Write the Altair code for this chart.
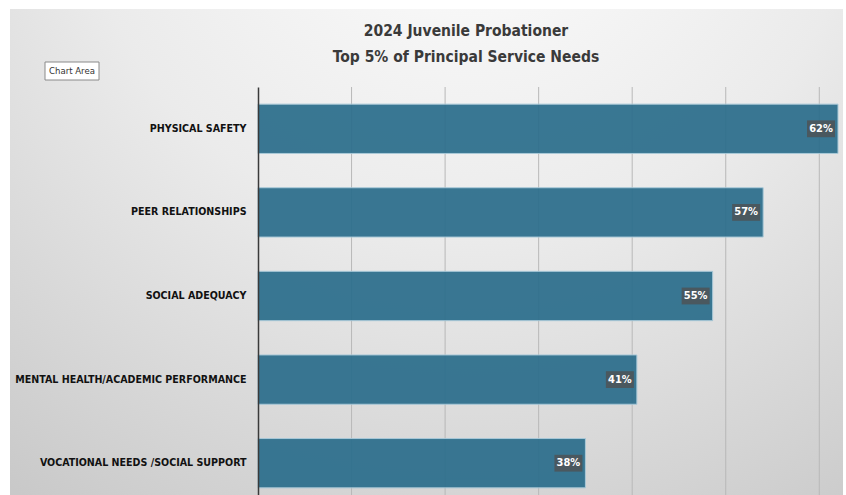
import altair as alt
import pandas as pd

categories = [
    "PHYSICAL SAFETY",
    "PEER RELATIONSHIPS",
    "SOCIAL ADEQUACY",
    "MENTAL HEALTH/ACADEMIC PERFORMANCE",
    "VOCATIONAL NEEDS /SOCIAL SUPPORT",
]
bar_lengths = [62.0, 54.0, 48.6, 40.5, 35.0]
pct_labels = ["62%", "57%", "55%", "41%", "38%"]
grid_ticks = [10, 20, 30, 40, 50, 60]
title_lines = ["2024 Juvenile Probationer", "Top 5% of Principal Service Needs"]

df = pd.DataFrame({"need": categories, "value": bar_lengths, "label": pct_labels})
grid_df = pd.DataFrame({"g": grid_ticks})

FONT = "DejaVu Sans Condensed"

y_enc = alt.Y(
    "need:N",
    sort=categories,
    scale=alt.Scale(paddingInner=0.41, paddingOuter=0.205),
    axis=alt.Axis(
        title=None,
        ticks=False,
        labelPadding=12,
        labelFont=FONT,
        labelFontWeight="bold",
        labelFontSize=10.6,
        labelColor="#111111",
        labelLimit=300,
        domainColor="#3a3a3a",
        domainWidth=1.5,
        grid=False,
        zindex=2,
    ),
)
x_scale = alt.Scale(domain=[0, 62], nice=False)
x_enc = alt.X("value:Q", scale=x_scale, axis=None)

bg = alt.Chart(df).mark_rect(
    color=alt.RadialGradient(
        gradient="radial",
        x1=0.55, y1=0.0, r1=0.0,
        x2=0.55, y2=0.0, r2=0.95,
        stops=[
            alt.GradientStop(offset=0, color="#ffffff"),
            alt.GradientStop(offset=0.5, color="#ebebeb"),
            alt.GradientStop(offset=1, color="#c9c9c9"),
        ],
    ),
    clip=False,
).encode(
    x=alt.value(-248), x2=alt.value(585), y=alt.value(-78), y2=alt.value(420)
)

grid = alt.Chart(grid_df).mark_rule(color="#b8b8b8", strokeWidth=1).encode(
    x=alt.X("g:Q", scale=x_scale, axis=None),
    y=alt.value(0),
    y2=alt.value(420),
)

bars = alt.Chart(df).mark_bar(
    color="#2c6e8c", opacity=0.93, stroke="#a6c8d8", strokeWidth=1
).encode(y=y_enc, x=x_enc)

boxes = alt.Chart(df).mark_point(
    shape="M-1,-0.6L1,-0.6L1,0.6L-1,0.6Z",
    size=784,
    filled=True,
    opacity=1,
    color="#4a585f",
    xOffset=-17,
).encode(y=alt.Y("need:N", sort=categories), x="value:Q")

texts = alt.Chart(df).mark_text(
    color="white",
    font=FONT,
    fontWeight="bold",
    fontSize=11,
    dx=-17,
).encode(y=alt.Y("need:N", sort=categories), x="value:Q", text="label:N")

title1 = alt.Chart(pd.DataFrame({"t": [title_lines[0]]})).mark_text(
    font=FONT, fontWeight="bold", fontSize=15.5, color="#3a3a3a", clip=False
).encode(x=alt.value(208), y=alt.value(-56), text="t:N")
title2 = alt.Chart(pd.DataFrame({"t": [title_lines[1]]})).mark_text(
    font=FONT, fontWeight="bold", fontSize=15.5, color="#3a3a3a", clip=False
).encode(x=alt.value(208), y=alt.value(-30), text="t:N")

tip_box = alt.Chart(pd.DataFrame({"a": [0]})).mark_rect(
    fill="white", stroke="#8a8a8a", strokeWidth=1
).encode(x=alt.value(-213), x2=alt.value(-159), y=alt.value(-25), y2=alt.value(-7))
tip_text = alt.Chart(pd.DataFrame({"t": ["Chart Area"]})).mark_text(
    font=FONT, fontSize=9.5, color="#333333"
).encode(x=alt.value(-186), y=alt.value(-16), text="t:N")

chart = alt.layer(bg, grid, bars, boxes, texts, title1, title2, tip_box, tip_text).properties(
    width=580,
    height=418,
    autosize=alt.AutoSizeParams(type="none"),
    padding={"left": 258, "top": 87, "right": 8, "bottom": 0},
    background="white",
).configure_view(stroke=None)

chart.save("out.html", embed_options={"renderer": "svg", "actions": False})
